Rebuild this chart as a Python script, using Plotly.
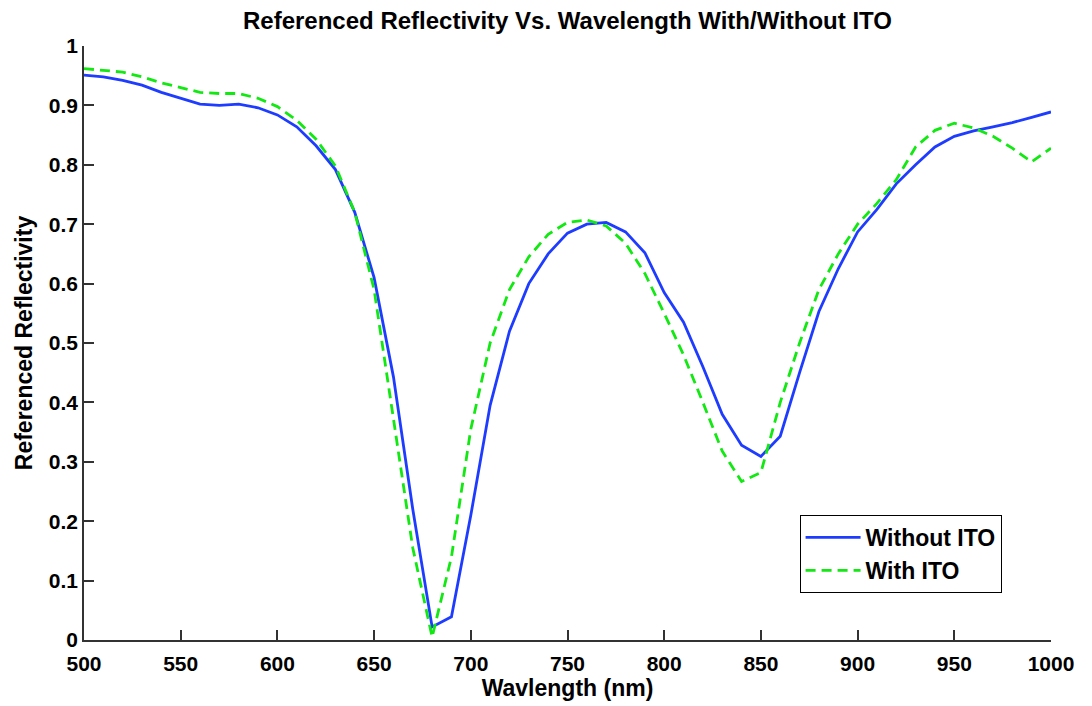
import plotly.graph_objects as go

wavelength = [500, 510, 520, 530, 540, 550, 560, 570, 580, 590,
              600, 610, 620, 630, 640, 650, 660, 670, 680, 690,
              700, 710, 720, 730, 740, 750, 760, 770, 780, 790,
              800, 810, 820, 830, 840, 850, 860, 870, 880, 890,
              900, 910, 920, 930, 940, 950, 960, 970, 980, 990, 1000]

without_ito = [0.951, 0.948, 0.942, 0.934, 0.922, 0.912, 0.902, 0.900, 0.902, 0.896,
               0.884, 0.864, 0.832, 0.792, 0.720, 0.610, 0.443, 0.220, 0.022, 0.039,
               0.210, 0.395, 0.520, 0.600, 0.650, 0.685, 0.700, 0.703, 0.687, 0.652,
               0.585, 0.535, 0.460, 0.380, 0.328, 0.309, 0.343, 0.450, 0.553, 0.625,
               0.687, 0.725, 0.768, 0.800, 0.830, 0.848, 0.857, 0.864, 0.871, 0.880, 0.889]

with_ito = [0.962, 0.959, 0.956, 0.948, 0.938, 0.930, 0.922, 0.920, 0.920, 0.912,
            0.898, 0.875, 0.843, 0.798, 0.720, 0.590, 0.376, 0.155, 0.005, 0.140,
            0.355, 0.500, 0.590, 0.645, 0.683, 0.703, 0.707, 0.697, 0.668, 0.617,
            0.550, 0.480, 0.400, 0.318, 0.267, 0.282, 0.400, 0.500, 0.590, 0.650,
            0.700, 0.735, 0.775, 0.830, 0.858, 0.870, 0.862, 0.848, 0.828, 0.805, 0.828]

FONT = "Liberation Sans, Arial, sans-serif"

fig = go.Figure()
fig.add_trace(go.Scatter(x=wavelength, y=without_ito, mode="lines", name="<b>Without ITO</b>",
                         line=dict(color="#1e3cff", width=2.8)))
fig.add_trace(go.Scatter(x=wavelength, y=with_ito, mode="lines", name="<b>With ITO</b>",
                         line=dict(color="#12e812", width=2.8, dash="10px,6px")))

# page body has an 8px default margin; compensate so the plot area sits at 84..1051 x 46..640
fig.update_layout(
    width=1092, height=706,
    margin=dict(l=76, r=49, t=38, b=74, autoexpand=False),
    paper_bgcolor="white", plot_bgcolor="white",
    font=dict(family=FONT, color="black"),
    title=dict(text="<b>Referenced Reflectivity Vs. Wavelength With/Without ITO</b>",
               x=0.5, xanchor="center", xref="paper", y=0.9816, yanchor="middle",
               font=dict(size=24, family=FONT, color="black")),
    showlegend=True,
    legend=dict(x=0.740, y=0.2104, xanchor="left", yanchor="top",
                bordercolor="black", borderwidth=1, bgcolor="white",
                font=dict(size=23, family=FONT, color="black"),
                tracegroupgap=0, itemwidth=55),
)

fig.update_xaxes(range=[500, 1000], dtick=50, tick0=500, showgrid=False, zeroline=False,
                 automargin=False,
                 showline=True, linecolor="#333333", linewidth=1.5,
                 ticks="inside", ticklen=10, tickwidth=1.5, tickcolor="#333333",
                 ticklabelstandoff=4,
                 tickfont=dict(size=21, family=FONT, color="black"),
                 tickprefix="<b>", ticksuffix="</b>",
                 title=dict(text="<b>Wavlength (nm)</b>", font=dict(size=23, family=FONT, color="black"),
                            standoff=2))
fig.update_yaxes(range=[0, 1], dtick=0.1, tick0=0, showgrid=False, zeroline=False,
                 automargin=False,
                 showline=True, linecolor="#333333", linewidth=1.5,
                 ticks="inside", ticklen=10, tickwidth=1.5, tickcolor="#333333",
                 tickfont=dict(size=21, family=FONT, color="black"),
                 tickprefix="<b>", ticksuffix="</b>",
                 title=dict(text="<b>Referenced Reflectivity</b>", font=dict(size=23, family=FONT, color="black"),
                            standoff=10))

fig.write_html("out.html")
